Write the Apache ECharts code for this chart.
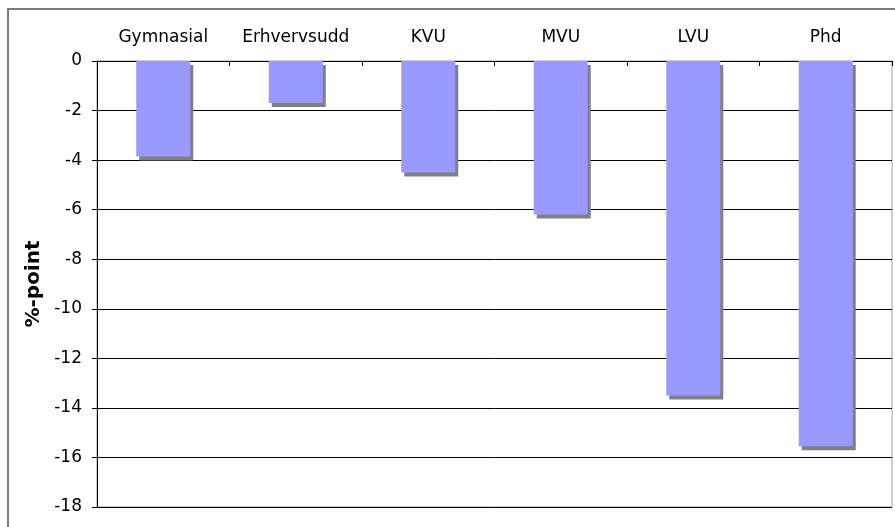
<!DOCTYPE html>
<html>
<head>
<meta charset="utf-8">
<script src="https://cdn.jsdelivr.net/npm/echarts@6/dist/echarts.min.js"></script>
<style>
html,body{margin:0;padding:0;background:#fff;}
#c{width:895px;height:527px;}
</style>
</head>
<body>
<div id="c"></div>
<script>
var categories = ['Gymnasial', 'Erhvervsudd', 'KVU', 'MVU', 'LVU', 'Phd'];
var values = [-3.85, -1.7, -4.5, -6.2, -13.5, -15.55];
var yAxisName = '%-point';

var chart = echarts.init(document.getElementById('c'));
var font = 'DejaVu Sans, Verdana, sans-serif';
chart.setOption({
  animation: false,
  backgroundColor: '#fff',
  grid: {left: 97, top: 61, right: 3, bottom: 20, show: true, borderColor: '#a0a0a0', borderWidth: 1},
  graphic: [{
    type: 'rect', z: 100, silent: true,
    shape: {x: 8, y: 9, width: 1000, height: 700},
    style: {fill: 'none', stroke: '#7a7a7a', lineWidth: 2}
  }],
  xAxis: {
    type: 'category', position: 'top', data: categories,
    axisLine: {show: true, lineStyle: {color: '#000', width: 1}},
    axisTick: {show: true, inside: true, length: 5, interval: 0, lineStyle: {color: '#000'}},
    axisLabel: {color: '#000', fontFamily: font, fontSize: 17, margin: 15, interval: 0, hideOverlap: false}
  },
  yAxis: {
    type: 'value', min: -18, max: 0, interval: 2,
    name: yAxisName, nameLocation: 'middle', nameGap: 51, nameRotate: 90,
    nameTextStyle: {color: '#000', fontFamily: font, fontSize: 20, fontWeight: 'bold'},
    axisLine: {show: true, lineStyle: {color: '#000', width: 1}},
    axisTick: {show: true, length: 5, lineStyle: {color: '#000'}},
    axisLabel: {color: '#000', fontFamily: font, fontSize: 17, margin: 15},
    splitLine: {show: true, lineStyle: {color: '#000', width: 1}}
  },
  series: [{
    type: 'bar', data: values, barWidth: 54,
    itemStyle: {color: '#9999ff', shadowColor: '#808080', shadowOffsetX: 3, shadowOffsetY: 4, shadowBlur: 0}
  }]
});
</script>
</body>
</html>
